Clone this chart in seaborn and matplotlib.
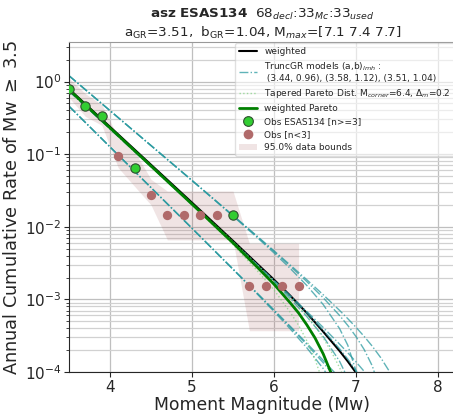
import numpy as np
import pandas as pd
import matplotlib
matplotlib.use("Agg")
import matplotlib.pyplot as plt
from matplotlib.lines import Line2D
from matplotlib.patches import Patch
import seaborn as sns

# observed cumulative rates
green_mags = [3.5, 3.7, 3.9, 4.3, 5.5]
green_rates = [0.79, 0.46, 0.33, 0.064, 0.0147]
red_mags = [4.1, 4.5, 4.7, 4.9, 5.1, 5.3, 5.7, 5.9, 6.1, 6.3]
red_rates = [0.093, 0.0274, 0.0147, 0.0147, 0.0147, 0.0147,
             0.00153, 0.00153, 0.00153, 0.00153]

# 95% data bounds
bound_mags = [3.5, 3.7, 3.9, 4.1, 4.3, 4.5, 4.7, 4.9, 5.1, 5.3, 5.5, 5.7, 5.9, 6.1, 6.3]
bound_hi = [1.1, 0.68, 0.48, 0.17, 0.11, 0.045, 0.031, 0.031, 0.031, 0.031, 0.031,
            0.0059, 0.0059, 0.0059, 0.0059]
bound_lo = [0.6, 0.33, 0.25, 0.065, 0.036, 0.02, 0.0066, 0.0066, 0.0066, 0.0066, 0.0066,
            0.00037, 0.00037, 0.00037, 0.00037]

nan = np.nan

# truncated GR model curves (and their weighted mean), read at these magnitudes
model_mags = [3.5, 5.0, 5.5, 5.8, 6.0, 6.2, 6.4, 6.6, 6.8, 6.9, 7.0, 7.1, 7.2, 7.3, 7.4, 7.5]
trunc_gr = {
    "A71": [1.202, 0.04323, 0.01403, 7.026e-3, 4.365e-3, 2.655e-3, 1.556e-3, 8.50e-4, 3.96e-4, 2.34e-4, 1.04e-4, 1e-6, nan, nan, nan, nan],
    "A74": [1.202, 0.04343, 0.01424, 7.23e-3, 4.569e-3, 2.859e-3, 1.760e-3, 1.054e-3, 6.00e-4, 4.378e-4, 3.08e-4, 2.039e-4, 1.205e-4, 5.36e-5, 1e-6, nan],
    "A77": [1.202, 0.04354, 0.01434, 7.335e-3, 4.674e-3, 2.964e-3, 1.865e-3, 1.159e-3, 7.05e-4, 5.43e-4, 4.13e-4, 3.09e-4, 2.256e-4, 1.587e-4, 1.051e-4, 6.21e-5],
    "C71": [0.7412, 0.02029, 6.03e-3, 2.872e-3, 1.728e-3, 1.019e-3, 5.81e-4, 3.09e-4, 1.405e-4, 8.21e-5, 3.61e-5, 1e-6, nan, nan, nan, nan],
    "C74": [0.7412, 0.02035, 6.10e-3, 2.941e-3, 1.797e-3, 1.088e-3, 6.49e-4, 3.77e-4, 2.09e-4, 1.506e-4, 1.046e-4, 6.85e-5, 4.0e-5, 1.76e-5, 1e-6, nan],
    "C77": [0.7413, 0.02039, 6.13e-3, 2.974e-3, 1.830e-3, 1.121e-3, 6.83e-4, 4.11e-4, 2.42e-4, 1.84e-4, 1.38e-4, 1.02e-4, 7.34e-5, 5.1e-5, 3.34e-5, 1.95e-5],
    "B71": [0.4571, 9.51e-3, 2.588e-3, 1.171e-3, 6.82e-4, 3.90e-4, 2.157e-4, 1.117e-4, 4.95e-5, 2.86e-5, 1.25e-5, 1e-6, nan, nan, nan, nan],
    "B74": [0.4571, 9.53e-3, 2.610e-3, 1.193e-3, 7.05e-4, 4.13e-4, 2.386e-4, 1.346e-4, 7.24e-5, 5.15e-5, 3.54e-5, 2.29e-5, nan, nan, nan, nan],
    "B77": [0.4571, 9.54e-3, 2.621e-3, 1.204e-3, 7.15e-4, 4.24e-4, 2.49e-4, 1.45e-4, 8.3e-5, 6.2e-5, 4.6e-5, 3.35e-5, nan, nan, nan, nan],
}
weighted = [0.79, 0.0215, 6.4e-3, 3.05e-3, 1.87e-3, 1.12e-3, 6.5e-4, 3.6e-4, 1.95e-4, 1.4e-4, 9.8e-5, 6.0e-5, 3e-5, nan, nan, nan]

# tapered Pareto curves (corner 6.2 / 6.4 / 6.6) and weighted Pareto
pareto_mags = [3.5, 5.0, 5.5, 5.8, 6.0, 6.2, 6.3, 6.4, 6.5, 6.6, 6.7, 6.8, 6.9]
tapered = {
    "TP62": [0.77, 0.0203, 5.7e-3, 2.45e-3, 1.35e-3, 6.6e-4, 4.4e-4, 2.7e-4, 1.5e-4, 7.1e-5, 2.8e-5, nan, nan],
    "TP64": [0.77, 0.0205, 6.0e-3, 2.75e-3, 1.62e-3, 8.9e-4, 6.5e-4, 4.47e-4, 2.95e-4, 1.78e-4, 9.5e-5, 4.5e-5, nan],
    "TP66": [0.77, 0.0207, 6.3e-3, 2.95e-3, 1.78e-3, 1.05e-3, 7.9e-4, 5.9e-4, 4.3e-4, 2.95e-4, 1.9e-4, 1.15e-4, 6.3e-5],
}
weighted_pareto = [0.77, 0.0205, 6.0e-3, 2.75e-3, 1.62e-3, 8.9e-4, 6.5e-4, 4.47e-4, 2.95e-4, 1.78e-4, 9.5e-5, 4.5e-5, nan]

sns.set_style("ticks")
plt.rcParams["font.family"] = ["DejaVu Sans"]

CYAN = "#2a9aa0"
TPGREEN = "#7ccf7c"
RED = "#b06a6a"
FILL = "#a05050"

fig = plt.figure(figsize=(4.53, 4.17), dpi=100)
ax = fig.add_axes([69 / 453, 45 / 417, 387 / 453, 330 / 417])
ax.set_yscale("log")

ax.fill_between(bound_mags, bound_lo, bound_hi, color=FILL, alpha=0.15, linewidth=0)

sns.lineplot(x=model_mags, y=weighted, ax=ax, color="black", lw=1.5, estimator=None)
for k, v in trunc_gr.items():
    sns.lineplot(x=model_mags, y=v, ax=ax, color=CYAN, lw=1.0, ls="-.",
                 alpha=0.75, estimator=None)
for k, v in tapered.items():
    sns.lineplot(x=pareto_mags, y=v, ax=ax, color=TPGREEN, lw=1.0, ls=":",
                 alpha=0.7, estimator=None)
sns.lineplot(x=pareto_mags, y=weighted_pareto, ax=ax, color="green", lw=2.0, estimator=None)

sns.scatterplot(x=green_mags, y=green_rates, ax=ax, color="limegreen",
                edgecolor="#2f4f2f", s=45, linewidth=0.8, zorder=5)
sns.scatterplot(x=red_mags, y=red_rates, ax=ax, color=RED, s=45,
                linewidth=0, zorder=5)

ax.set_xlim(3.5, 8.22)
ax.set_ylim(1e-4, 3.5)
ax.set_xticks([4, 5, 6, 7, 8])
ax.grid(True, which="major", color="0.75", lw=0.9)
ax.grid(True, which="minor", axis="y", color="0.82", lw=0.9)
ax.tick_params(labelsize=11, pad=2)
for s in ["top", "right"]:
    ax.spines[s].set_color("0.6")

ax.set_xlabel("Moment Magnitude (Mw)", fontsize=12.4, labelpad=1)
ax.set_ylabel("Annual Cumulative Rate of Mw $\\geq$ 3.5", fontsize=12.8, labelpad=3)
ax.set_title("$\\bf{asz\\ ESAS134}$  68$_{decl}$:33$_{Mc}$:33$_{used}$\n"
             "a$_{\\rm GR}$=3.51,  b$_{\\rm GR}$=1.04, M$_{max}$=[7.1 7.4 7.7]",
             fontsize=9.7, pad=4)

handles = [
    Line2D([], [], color="black", lw=1.5),
    Line2D([], [], color=CYAN, lw=1.0, ls="-.", alpha=0.75),
    Line2D([], [], color=TPGREEN, lw=1.0, ls=":", alpha=0.7),
    Line2D([], [], color="green", lw=2.0),
    Line2D([], [], ls="none", marker="o", ms=7, mfc="limegreen", mec="#2f4f2f", mew=0.8),
    Line2D([], [], ls="none", marker="o", ms=7, mfc=RED, mec=RED, mew=0),
    Patch(facecolor=FILL, alpha=0.15, lw=0),
]
labels = [
    "weighted",
    "TruncGR models (a,b)$_{lmh}$ :\n (3.44, 0.96), (3.58, 1.12), (3.51, 1.04)",
    "Tapered Pareto Dist. M$_{corner}$=6.4, $\\Delta_m$=0.2",
    "weighted Pareto",
    "Obs ESAS134 [n>=3]",
    "Obs [n<3]",
    "95.0% data bounds",
]
ax.legend(handles, labels, loc="upper right", fontsize=6.5, labelspacing=0.45,
          framealpha=0.6, borderaxespad=0.15, handlelength=2.0)

fig.savefig("out.png", dpi=100)
